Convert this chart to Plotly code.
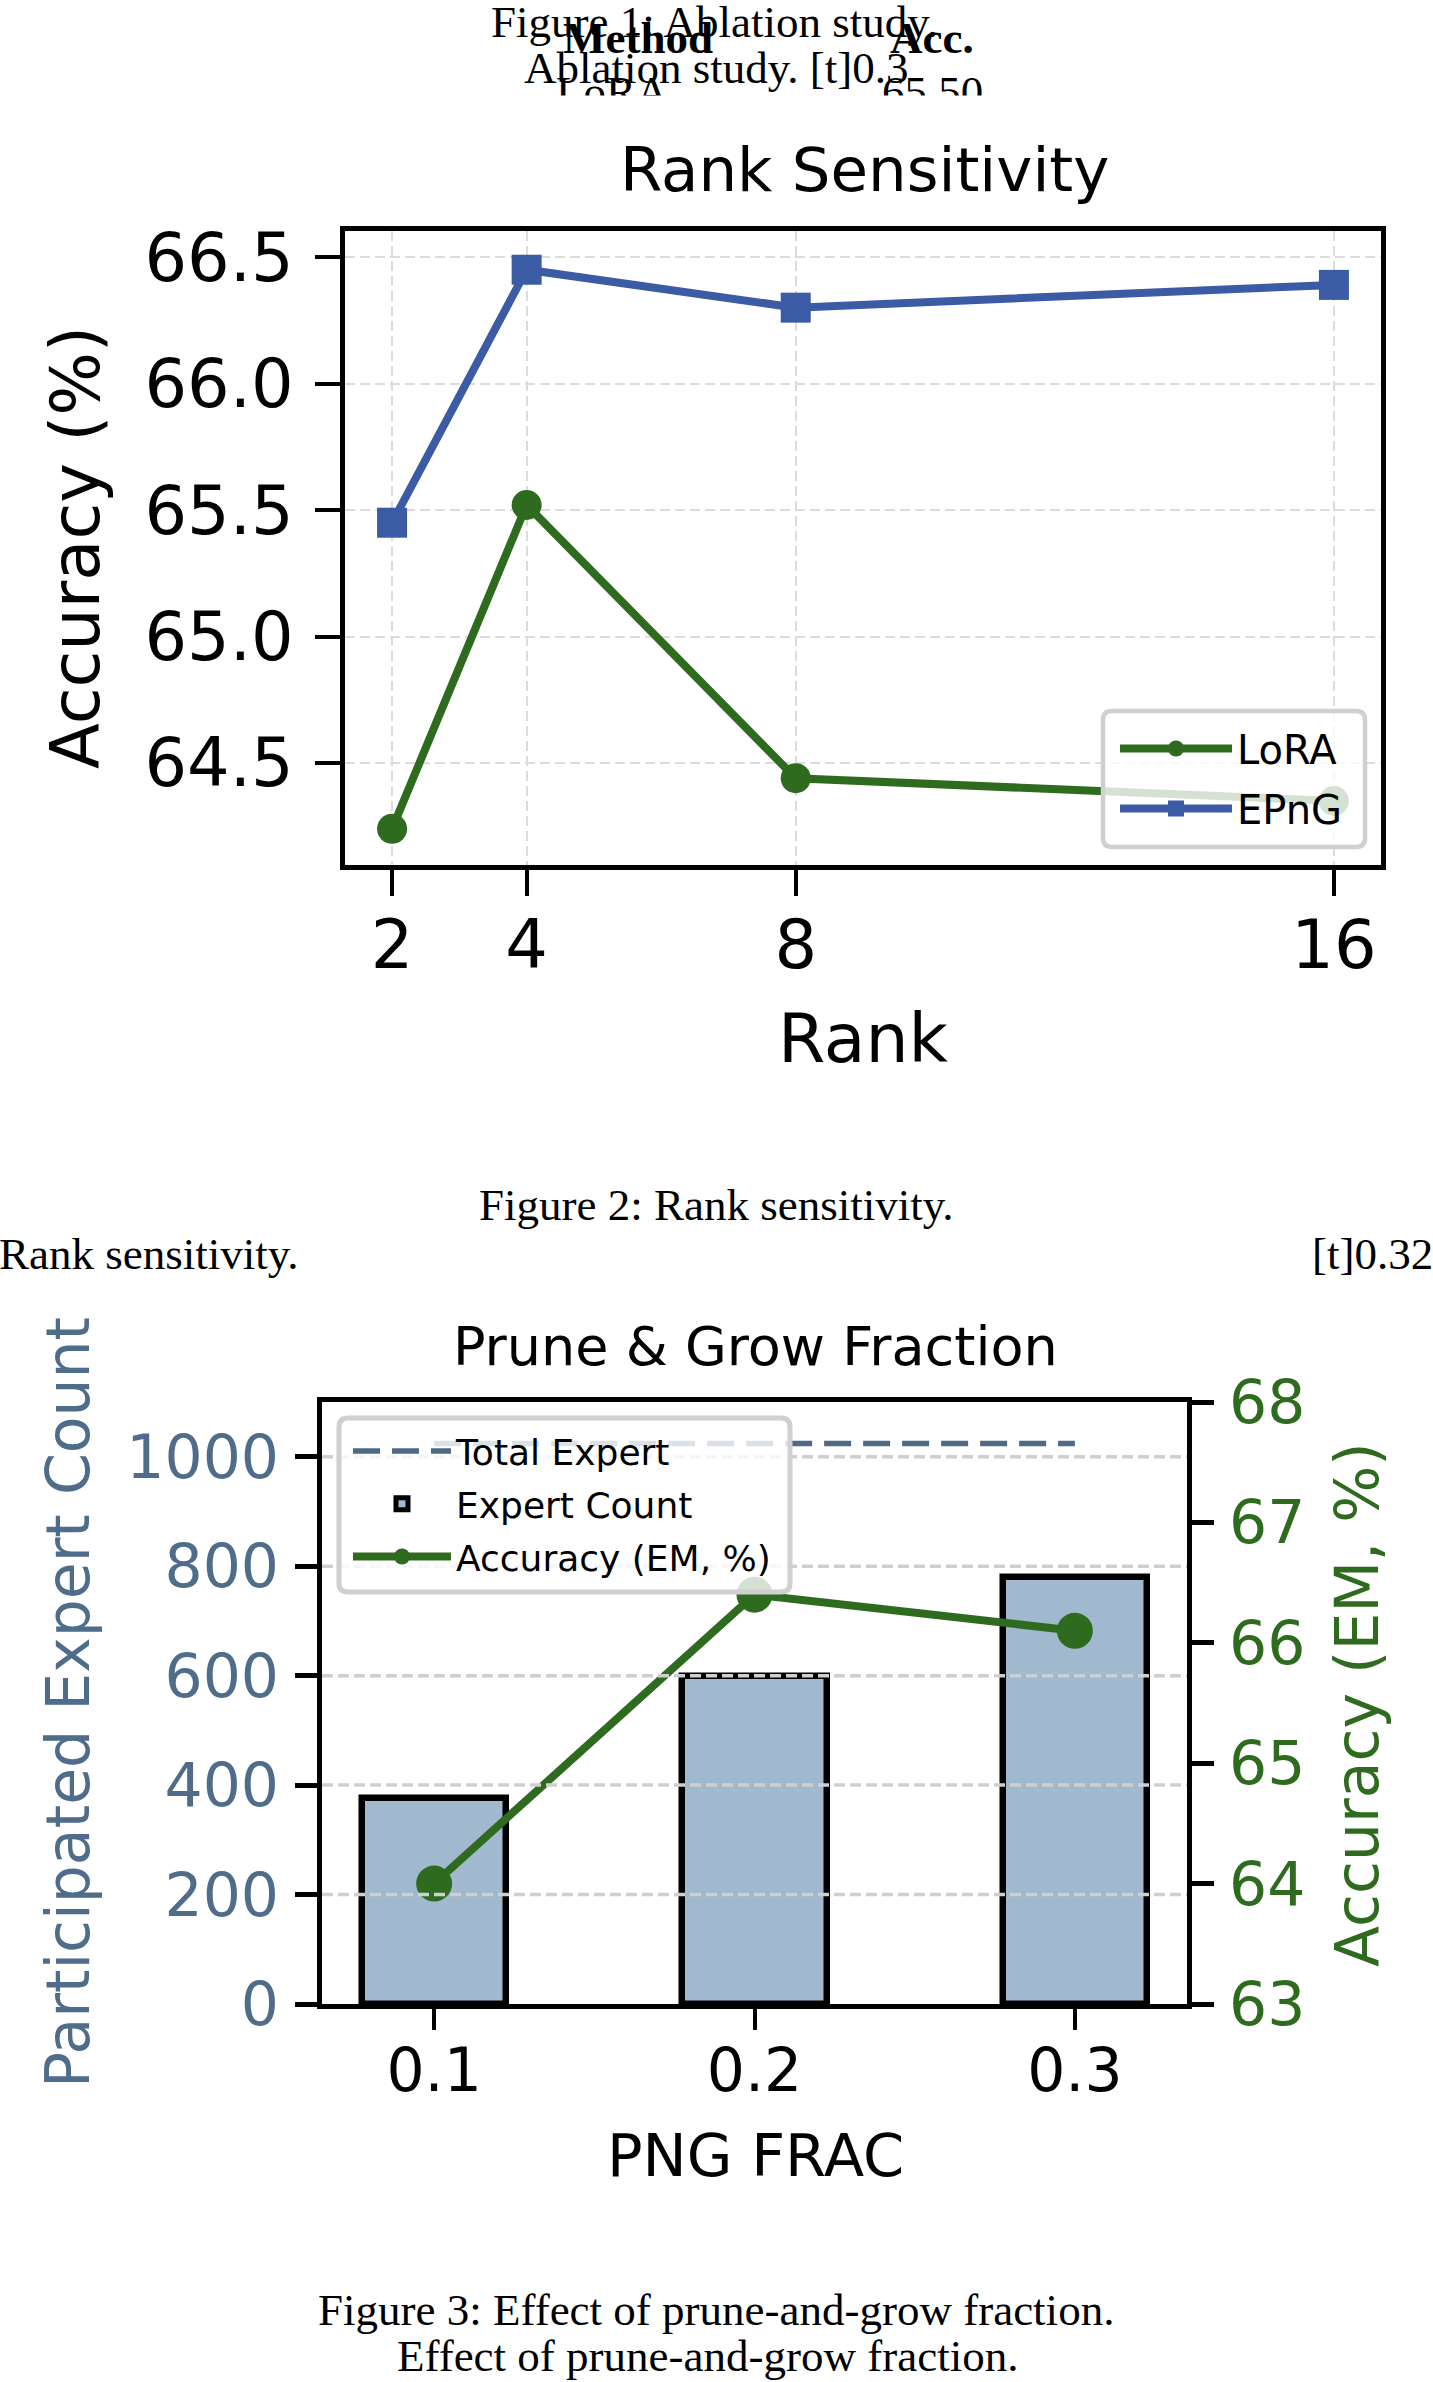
import plotly.graph_objects as go

# ---------------- data ----------------
ranks = [2, 4, 8, 16]
lora_acc = [64.24, 65.52, 64.44, 64.35]
epng_acc = [65.45, 66.45, 66.30, 66.39]
rank_yticks = [64.5, 65.0, 65.5, 66.0, 66.5]

png_frac = [0.1, 0.2, 0.3]
expert_count = [376, 600, 780]
accuracy_em = [64.0, 66.4, 66.1]
total_expert = 1024
count_ticks = [0, 200, 400, 600, 800, 1000]
acc_ticks = [63, 64, 65, 66, 67, 68]

# ---------------- style ----------------
W, H = 1433, 2382
GREEN = "#2E6B1F"
BLUE = "#3B5BA5"
SLATE = "#4F6D8A"
BAR_FILL = "#A0B9CE"
DASH_SLATE = "#4E6A84"
SANS = "DejaVu Sans"
SERIF = "Liberation Serif"


def px(x):
    return x / W


def py(y):
    return 1 - y / H


fig = go.Figure()

# ---- chart 1: rank sensitivity ----
fig.add_trace(go.Scatter(
    x=ranks, y=lora_acc, name="LoRA", mode="lines+markers", legendgroup="lora",
    line=dict(color=GREEN, width=8), marker=dict(symbol="circle", size=30, color=GREEN),
    xaxis="x", yaxis="y", legend="legend"))
fig.add_trace(go.Scatter(
    x=ranks, y=epng_acc, name="EPnG", mode="lines+markers", legendgroup="epng",
    line=dict(color=BLUE, width=8), marker=dict(symbol="square", size=30, color=BLUE),
    xaxis="x", yaxis="y", legend="legend"))

# ---- chart 2: prune & grow fraction ----
fig.add_trace(go.Scatter(
    x=png_frac, y=[total_expert] * len(png_frac), name="Total Expert", mode="lines",
    legendgroup="total",
    line=dict(color=DASH_SLATE, width=5.5, dash="27px,12px"),
    xaxis="x2", yaxis="y2", legend="legend2"))
fig.add_trace(go.Bar(
    x=png_frac, y=expert_count, name="Expert Count", width=0.045, legendgroup="count",
    marker=dict(color=BAR_FILL, line=dict(color="black", width=6.5)),
    xaxis="x2", yaxis="y2", legend="legend2"))
fig.add_trace(go.Scatter(
    x=png_frac, y=accuracy_em, name="Accuracy (EM, %)", mode="lines+markers",
    legendgroup="acc",
    line=dict(color=GREEN, width=8), marker=dict(symbol="circle", size=36, color=GREEN),
    xaxis="x2", yaxis="y3", legend="legend2"))

axis_common = dict(showline=True, linecolor="black", linewidth=5, ticks="outside",
                   tickcolor="black", zeroline=False)

fig.update_layout(
    width=W, height=H, margin=dict(l=0, r=0, t=0, b=0, autoexpand=False),
    paper_bgcolor="white", plot_bgcolor="white",
    font=dict(family=SANS, color="black"),
    showlegend=True,
    bargap=0,
    xaxis=dict(domain=[px(345), px(1381)], anchor="y", range=[1.3, 16.7],
               tickvals=ranks, ticktext=[str(r) for r in ranks], mirror=True,
               ticklen=26, tickwidth=4, tickfont=dict(size=67, family=SANS, color="black"),
               showgrid=True, gridcolor="#DCDCDC", gridwidth=2, griddash="10px,5px",
               ticklabelstandoff=-8, automargin=False, **axis_common),
    yaxis=dict(domain=[py(865), py(231)], anchor="x", range=[64.097, 66.603],
               tickvals=rank_yticks, ticktext=["%.1f" % v for v in rank_yticks], mirror=True,
               ticklen=25, tickwidth=4, tickfont=dict(size=67, family=SANS, color="black"),
               showgrid=True, gridcolor="#DCDCDC", gridwidth=2, griddash="10px,5px",
               ticklabelstandoff=8, automargin=False, **axis_common),
    xaxis2=dict(domain=[px(322), px(1187)], anchor="y2", range=[0.065, 0.335],
                tickvals=png_frac, ticktext=["%.1f" % v for v in png_frac], mirror=True,
                ticklen=21, tickwidth=4, tickfont=dict(size=60, family=SANS, color="black"),
                showgrid=False, ticklabelstandoff=-11, automargin=False, **axis_common),
    yaxis2=dict(domain=[py(2004), py(1402)], anchor="x2", range=[0, 1100],
                tickvals=count_ticks, ticktext=[str(v) for v in count_ticks],
                ticklen=22, tickwidth=5, tickfont=dict(size=60, family=SANS, color=SLATE),
                showgrid=False, ticklabelstandoff=4, automargin=False, **axis_common),
    yaxis3=dict(domain=[py(2004), py(1402)], anchor="x2", overlaying="y2", side="right",
                range=[63, 68], tickvals=acc_ticks, ticktext=[str(v) for v in acc_ticks],
                ticklen=22, tickwidth=5, tickfont=dict(size=60, family=SANS, color=GREEN),
                showgrid=False, ticklabelstandoff=3, automargin=False, **axis_common),
    legend=dict(x=px(1115), y=py(716), xanchor="left", yanchor="top",
                bgcolor="rgba(0,0,0,0)", borderwidth=0, itemwidth=112, tracegroupgap=5,
                font=dict(size=40, family=SANS, color="black")),
    legend2=dict(x=px(348), y=py(1421), xanchor="left", yanchor="top",
                 bgcolor="rgba(0,0,0,0)", borderwidth=0, itemwidth=98, tracegroupgap=3,
                 font=dict(size=36, family=SANS, color="black")),
)

# ---- grid for chart 2 (drawn above bars, as in the source) ----
shapes = []
for v in count_ticks[1:]:
    shapes.append(dict(type="line", xref="x2 domain", x0=0, x1=1, yref="y2", y0=v, y1=v,
                       line=dict(color="#CFCFCF", width=3.5, dash="11px,5px"), layer="above"))


def rounded_rect(x0, y0, x1, y1, r):
    rx, ry = r / W, r / H
    X0, X1 = px(x0), px(x1)
    Y0, Y1 = py(y0), py(y1)  # Y0 top (larger), Y1 bottom
    return (f"M {X0 + rx},{Y0} L {X1 - rx},{Y0} Q {X1},{Y0} {X1},{Y0 - ry} "
            f"L {X1},{Y1 + ry} Q {X1},{Y1} {X1 - rx},{Y1} "
            f"L {X0 + rx},{Y1} Q {X0},{Y1} {X0},{Y1 + ry} "
            f"L {X0},{Y0 - ry} Q {X0},{Y0} {X0 + rx},{Y0} Z")


shapes.append(dict(type="path", xref="paper", yref="paper", path=rounded_rect(1103, 711, 1365, 847, 9),
                   fillcolor="rgba(255,255,255,0.8)", line=dict(color="#D0D0D0", width=4.5), layer="above"))
shapes.append(dict(type="path", xref="paper", yref="paper", path=rounded_rect(339, 1418, 790, 1592, 9),
                   fillcolor="rgba(255,255,255,0.8)", line=dict(color="#D0D0D0", width=5), layer="above"))
fig.update_layout(shapes=shapes)

# ---- texts ----
ann = []


def text(t, x, y, size, family=SANS, color="black", xanchor="center", angle=0, xshift=0):
    ann.append(dict(text=t, x=px(x), y=py(y), xref="paper", yref="paper", showarrow=False,
                    xanchor=xanchor, yanchor="middle", textangle=angle, xshift=xshift,
                    font=dict(size=size, family=family, color=color)))


# LaTeX page leftovers
text("Figure 1: Ablation study.", 714, 22, 45, SERIF)
text("<b>Method</b>", 638, 38, 45, SERIF)
text("<b>Acc.</b>", 932, 38, 45, SERIF)
text("Ablation study. [t]0.3", 716, 68, 45, SERIF)
text("LoRA", 612, 92, 45, SERIF)
text("65.50", 932, 92, 45, SERIF)
# page clipping of the table rows
ann.append(dict(text=" ", x=px(450), y=py(95), xref="paper", yref="paper", showarrow=False,
                xanchor="left", yanchor="top", width=600, height=40, bgcolor="white", borderpad=0,
                font=dict(size=10)))

# chart 1 texts
text("Rank Sensitivity", 864, 170, 61)
text("Accuracy (%)", 76, 548, 67, angle=-90)
text("Rank", 863, 1038, 68)

text("Figure 2: Rank sensitivity.", 716, 1205, 45, SERIF)
text("Rank sensitivity.", 0, 1254, 45, SERIF, xanchor="left", xshift=-3)
text("[t]0.32", 1433, 1254, 45, SERIF, xanchor="right", xshift=2)

# chart 2 texts
text("Prune &amp; Grow Fraction", 755, 1346, 54)
text("Participated Expert Count", 68, 1703, 60, color=SLATE, angle=-90)
text("Accuracy (EM, %)", 1357, 1705, 60, color=GREEN, angle=-90)
text("PNG FRAC", 755, 2155, 59)

text("Figure 3: Effect of prune-and-grow fraction.", 716, 2310, 45, SERIF)
text("Effect of prune-and-grow fraction.", 707, 2356, 45, SERIF)

fig.update_layout(annotations=ann)

fig.write_html("out.html")
